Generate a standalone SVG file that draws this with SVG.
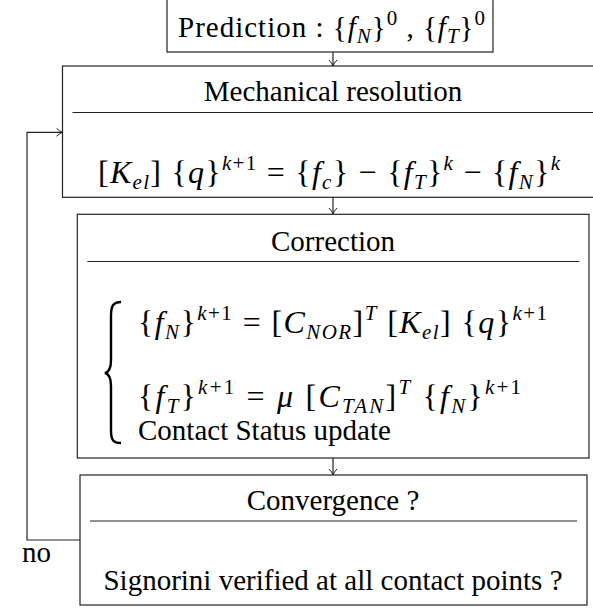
<svg xmlns="http://www.w3.org/2000/svg" width="593" height="610" viewBox="0 0 593 610">
<defs>
<style>
.t{font-family:"Liberation Serif","Tinos","Times New Roman","DejaVu Serif",serif;font-size:29px;fill:#000}
.m{font-size:32px}
.i{font-style:italic}
.s{font-size:21px}
.box{fill:#fff;stroke:#222;stroke-width:1.2}
.ln{fill:none;stroke:#222;stroke-width:1.2}
</style>
<marker id="ah" viewBox="0 0 8 10" refX="7" refY="5" markerWidth="8" markerHeight="10" markerUnits="userSpaceOnUse" orient="auto">
<path d="M1,1 Q4,4 7,5 Q4,6 1,9" fill="none" stroke="#222" stroke-width="1"/>
</marker>
</defs>
<rect width="593" height="610" fill="#fff"/>
<g id="connectors">
<line class="ln" x1="333" y1="52" x2="333" y2="66" marker-end="url(#ah)"/>
<line class="ln" x1="333" y1="197" x2="333" y2="214" marker-end="url(#ah)"/>
<line class="ln" x1="333" y1="458" x2="333" y2="475" marker-end="url(#ah)"/>
<path class="ln" d="M80,540 H27 V132.3 H62.5" marker-end="url(#ah)"/>
<text class="t" x="22" y="562">no</text>
</g>
<g id="prediction">
<rect class="box" x="167" y="-1" width="326" height="53"/>
<text class="t" x="178" y="37" textLength="307" lengthAdjust="spacing">Prediction : {<tspan class="i">f</tspan><tspan class="s i" dy="6">N</tspan><tspan dy="-6">}</tspan><tspan class="s" dy="-12">0</tspan><tspan dy="12"> , {</tspan><tspan class="i">f</tspan><tspan class="s i" dy="6">T</tspan><tspan dy="-6">}</tspan><tspan class="s" dy="-12">0</tspan></text>
</g>
<g id="mechanical">
<rect class="box" x="62.5" y="66" width="545" height="131.3"/>
<line class="ln" x1="72.5" y1="112.5" x2="600" y2="112.5"/>
<text class="t" x="333" y="101" text-anchor="middle">Mechanical resolution</text>
<text class="t m" x="98" y="183" textLength="462" lengthAdjust="spacing">[<tspan class="i">K</tspan><tspan class="s i" dy="6">el</tspan><tspan dy="-6">] {</tspan><tspan class="i">q</tspan>}<tspan class="s" dy="-13"><tspan class="i">k</tspan>+1</tspan><tspan dy="13"> = {</tspan><tspan class="i">f</tspan><tspan class="s i" dy="6">c</tspan><tspan dy="-6">} − {</tspan><tspan class="i">f</tspan><tspan class="s i" dy="6">T</tspan><tspan dy="-6">}</tspan><tspan class="s i" dy="-13">k</tspan><tspan dy="13"> − {</tspan><tspan class="i">f</tspan><tspan class="s i" dy="6">N</tspan><tspan dy="-6">}</tspan><tspan class="s i" dy="-13">k</tspan></text>
</g>
<g id="correction">
<rect class="box" x="77.3" y="214.3" width="511.7" height="243.7"/>
<line class="ln" x1="87.3" y1="261.5" x2="579.3" y2="261.5"/>
<text class="t" x="333" y="251" text-anchor="middle">Correction</text>
<path d="M121,302 C113,302 111,306 111,316 L111,360 C111,368 109,372 105,373 C109,374 111,378 111,386 L111,430 C111,440 113,443 121,443" fill="none" stroke="#000" stroke-width="2.4"/>
<text class="t m" x="138" y="333" textLength="409" lengthAdjust="spacing">{<tspan class="i">f</tspan><tspan class="s i" dy="6">N</tspan><tspan dy="-6">}</tspan><tspan class="s" dy="-13"><tspan class="i">k</tspan>+1</tspan><tspan dy="13"> = [</tspan><tspan class="i">C</tspan><tspan class="s i" dy="6">NOR</tspan><tspan dy="-6">]</tspan><tspan class="s i" dy="-13">T</tspan><tspan dy="13"> [</tspan><tspan class="i">K</tspan><tspan class="s i" dy="6">el</tspan><tspan dy="-6">] {</tspan><tspan class="i">q</tspan>}<tspan class="s" dy="-13"><tspan class="i">k</tspan>+1</tspan></text>
<text class="t m" x="138" y="407" textLength="383" lengthAdjust="spacing">{<tspan class="i">f</tspan><tspan class="s i" dy="6">T</tspan><tspan dy="-6">}</tspan><tspan class="s" dy="-13"><tspan class="i">k</tspan>+1</tspan><tspan dy="13"> = </tspan><tspan class="i">μ</tspan> [<tspan class="i">C</tspan><tspan class="s i" dy="6">TAN</tspan><tspan dy="-6">]</tspan><tspan class="s i" dy="-13">T</tspan><tspan dy="13"> {</tspan><tspan class="i">f</tspan><tspan class="s i" dy="6">N</tspan><tspan dy="-6">}</tspan><tspan class="s" dy="-13"><tspan class="i">k</tspan>+1</tspan></text>
<text class="t" x="138" y="440">Contact Status update</text>
</g>
<g id="convergence">
<rect class="box" x="80" y="475" width="507" height="130"/>
<line class="ln" x1="90" y1="521" x2="577" y2="521"/>
<text class="t" x="333" y="510" text-anchor="middle">Convergence ?</text>
<text class="t" x="333" y="590" text-anchor="middle">Signorini verified at all contact points ?</text>
</g>
</svg>
